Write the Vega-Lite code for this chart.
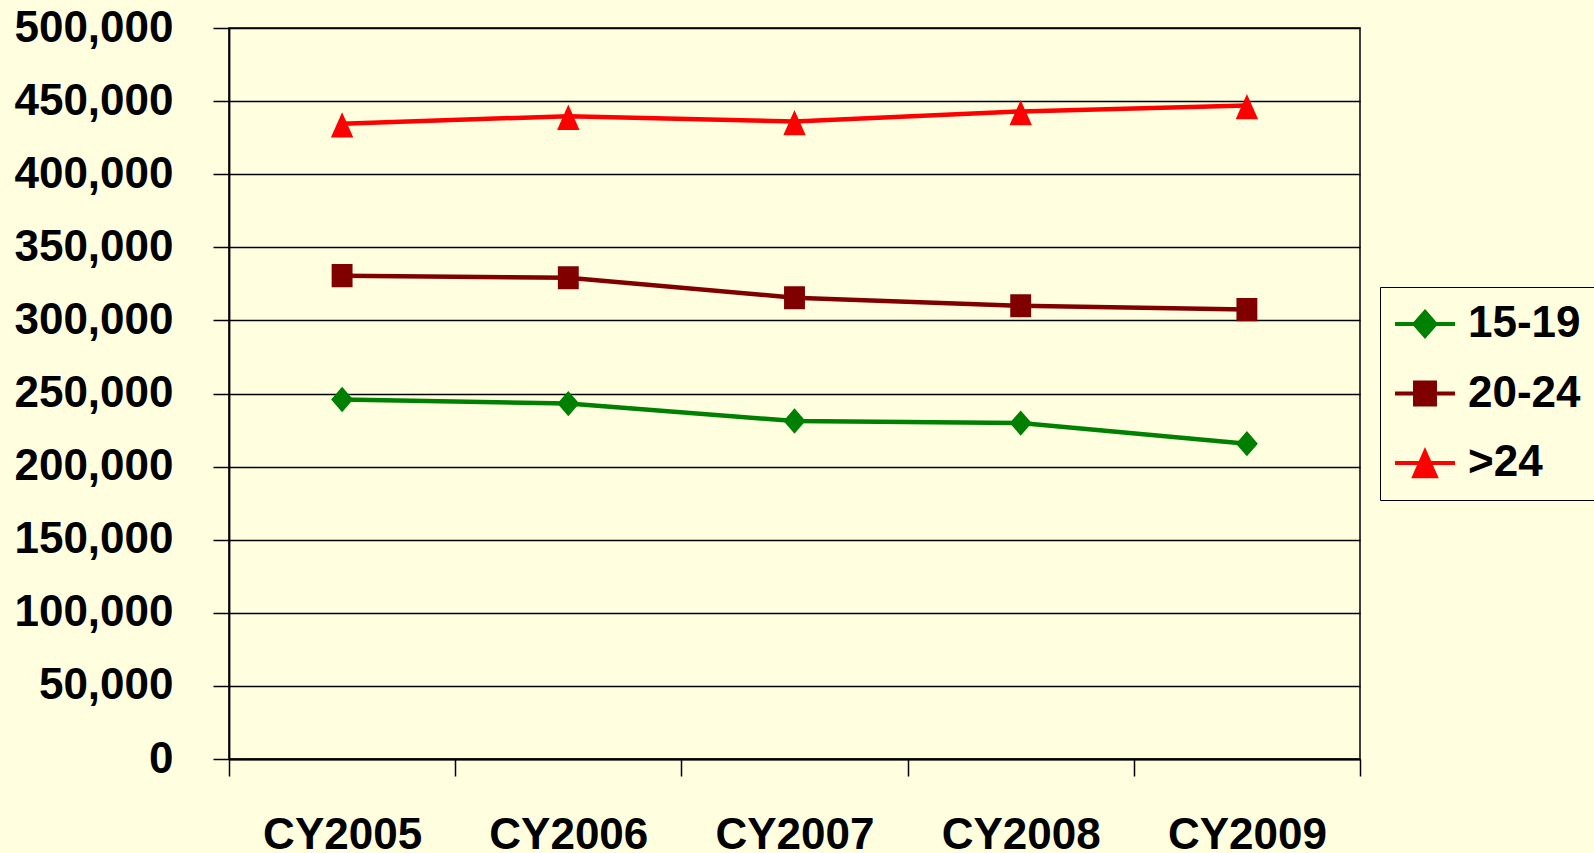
{
  "$schema": "https://vega.github.io/schema/vega-lite/v6.json",
  "width": 1131,
  "height": 731,
  "autosize": "none",
  "padding": {"left": 229, "top": 28, "right": 234, "bottom": 94},
  "background": "#FFFFE0",
  "config": {
    "view": {"stroke": "black", "strokeWidth": 1.5, "fill": "#FFFFE0"},
    "font": "Liberation Sans"
  },
  "data": {
    "values": [
      {"year": "CY2005", "group": "15-19", "value": 245900},
      {"year": "CY2006", "group": "15-19", "value": 243100},
      {"year": "CY2007", "group": "15-19", "value": 231200},
      {"year": "CY2008", "group": "15-19", "value": 229800},
      {"year": "CY2009", "group": "15-19", "value": 215700},
      {"year": "CY2005", "group": "20-24", "value": 330600},
      {"year": "CY2006", "group": "20-24", "value": 329200},
      {"year": "CY2007", "group": "20-24", "value": 315500},
      {"year": "CY2008", "group": "20-24", "value": 310000},
      {"year": "CY2009", "group": "20-24", "value": 307400},
      {"year": "CY2005", "group": ">24", "value": 434500},
      {"year": "CY2006", "group": ">24", "value": 439700},
      {"year": "CY2007", "group": ">24", "value": 436000},
      {"year": "CY2008", "group": ">24", "value": 442900},
      {"year": "CY2009", "group": ">24", "value": 447000}
    ]
  },
  "encoding": {
    "x": {
      "field": "year",
      "type": "nominal",
      "scale": {"type": "band", "paddingInner": 0, "paddingOuter": 0},
      "axis": {
        "title": null,
        "labelAngle": 0,
        "tickBand": "extent",
        "tickSize": 17,
        "tickWidth": 1.5,
        "tickColor": "black",
        "domainColor": "black",
        "domainWidth": 1.8,
        "labelPadding": 37,
        "labelFontSize": 44,
        "labelFontWeight": "bold",
        "labelColor": "black",
        "labelFont": "Liberation Sans",
        "grid": false
      }
    },
    "y": {
      "field": "value",
      "type": "quantitative",
      "scale": {"domain": [0, 500000], "nice": false, "zero": true},
      "axis": {
        "title": null,
        "values": [0, 50000, 100000, 150000, 200000, 250000, 300000, 350000, 400000, 450000, 500000],
        "format": ",d",
        "grid": true,
        "gridColor": "black",
        "gridWidth": 1.3,
        "gridOpacity": 1,
        "tickSize": 16,
        "tickWidth": 1.5,
        "tickColor": "black",
        "domainColor": "black",
        "domainWidth": 1.8,
        "labelPadding": 40,
        "labelFontSize": 44,
        "labelFontWeight": "bold",
        "labelColor": "black",
        "labelFont": "Liberation Sans"
      }
    },
    "color": {
      "field": "group",
      "type": "nominal",
      "scale": {"domain": ["15-19", "20-24", ">24"], "range": ["#008000", "#800000", "#FF0000"]},
      "legend": {
        "title": null,
        "orient": "none",
        "legendX": 1151,
        "legendY": 259,
        "padding": 15,
        "fillColor": "#FFFFE0",
        "strokeColor": "black",
        "symbolSize": 441,
        "symbolStrokeWidth": 4,
        "symbolOpacity": 1,
        "symbolOffset": 8,
        "labelOffset": 21,
        "rowPadding": 25.5,
        "labelFontSize": 44,
        "labelFontWeight": "bold",
        "labelColor": "black",
        "labelFont": "Liberation Sans",
        "labelLimit": 400
      }
    }
  },
  "layer": [
    {
      "mark": {"type": "line", "strokeWidth": 4.5}
    },
    {
      "mark": {"type": "point", "filled": true, "opacity": 1, "size": 484, "strokeWidth": 0},
      "encoding": {
        "stroke": {
          "field": "group",
          "type": "nominal",
          "scale": {"domain": ["15-19", "20-24", ">24"], "range": ["#008000", "#800000", "#FF0000"]}
        },
        "shape": {
          "field": "group",
          "type": "nominal",
          "scale": {
            "domain": ["15-19", "20-24", ">24"],
            "range": [
              "M-2.86,0H2.86M0,-1.15L1,0L0,1.15L-1,0Z",
              "M-2.86,0H2.86M-0.95,-1.05H0.95V1.05H-0.95Z",
              "M-2.86,0H2.86M0,-1.05L1.02,1.25L-1.02,1.25Z"
            ]
          }
        }
      }
    }
  ]
}
